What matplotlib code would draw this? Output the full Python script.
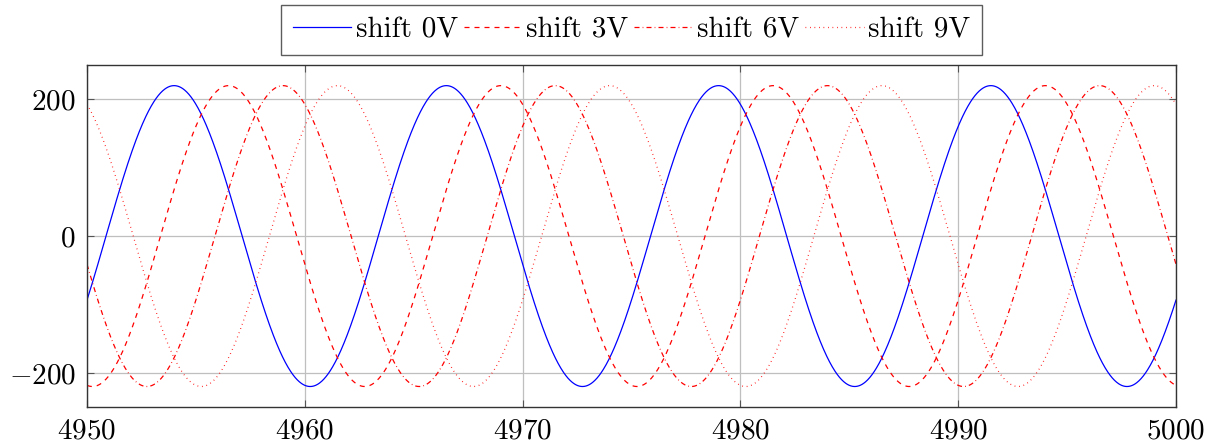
import numpy as np
import matplotlib.pyplot as plt

plt.rcParams['font.family'] = 'cmr10'
plt.rcParams['mathtext.fontset'] = 'cm'
plt.rcParams['axes.formatter.use_mathtext'] = True

# values
labels = ['shift 0V', 'shift 3V', 'shift 6V', 'shift 9V']
amplitude = 220.0
period = 12.5
peak_x = [4954.0, 4956.5, 4959.0, 4961.5]   # first crest of each curve
colors = ['blue', 'red', 'red', 'red']
styles = ['-', (0, (4, 4)), (0, (4, 2.5, 0.6, 2.5)), (0, (0.6, 3.0))]

x_ticks = [4950, 4960, 4970, 4980, 4990, 5000]
y_ticks = [-200, 0, 200]

x = np.linspace(4950, 5000, 2000)

fig = plt.figure(figsize=(12.18, 4.46), dpi=100)
ax = fig.add_axes([0.0714, 0.0874, 0.8941, 0.7666])

for lab, px, c, ls in zip(labels, peak_x, colors, styles):
    y = amplitude * np.cos(2 * np.pi * (x - px) / period)
    ax.plot(x, y, color=c, linestyle=ls, linewidth=0.9, label=lab)

ax.set_xlim(4950, 5000)
ax.set_ylim(-250, 250)
ax.set_xticks(x_ticks)
ax.set_yticks(y_ticks)
ax.grid(True, color='#bfbfbf', linewidth=0.9)
ax.set_axisbelow(True)
ax.tick_params(direction='in', labelsize=21, length=5, color='#555555',
               top=True, right=True, pad=8)
for s in ax.spines.values():
    s.set_color('#333333')
    s.set_linewidth(1.0)

leg = ax.legend(loc='lower center', bbox_to_anchor=(0.5, 1.03), ncol=4,
                fontsize=21, frameon=True, fancybox=False, handlelength=2.0,
                handletextpad=0.15, columnspacing=0.2, borderpad=0.4,
                borderaxespad=0.0)
leg.get_frame().set_edgecolor('#333333')
leg.get_frame().set_linewidth(1.0)

fig.savefig('out.png', dpi=100)
